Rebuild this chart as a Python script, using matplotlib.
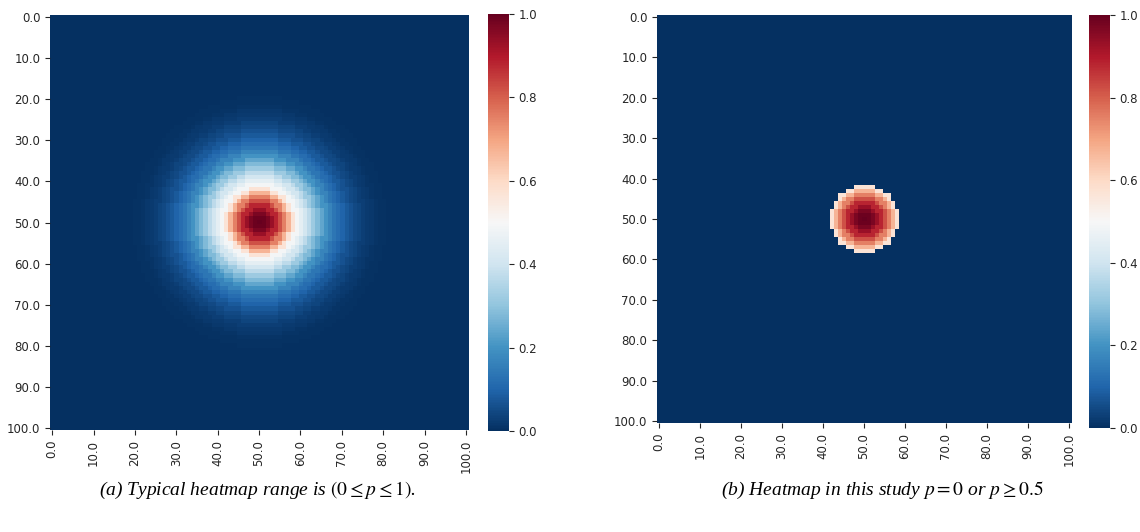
import numpy as np
import matplotlib
matplotlib.use("Agg")
from matplotlib import pyplot as plt

# grid of the heatmap (0..100 in both directions)
grid_size = 101
centre = [50, 50]

# value of the heatmap read along a radius from the centre, one entry per unit of distance
radial_profile = [1.00, 0.99, 0.97, 0.93, 0.88, 0.82, 0.75, 0.67, 0.57, 0.49,
                  0.45, 0.41, 0.37, 0.32, 0.28, 0.24, 0.20, 0.17, 0.14, 0.12,
                  0.10, 0.08, 0.065, 0.05, 0.04, 0.03, 0.022, 0.016, 0.011, 0.007,
                  0.004, 0.0]

# right panel keeps only p = 0 or p >= threshold
threshold = 0.5

tick_values = [0, 10, 20, 30, 40, 50, 60, 70, 80, 90, 100]
tick_labels = ["%.1f" % t for t in tick_values]
cbar_ticks = [0.0, 0.2, 0.4, 0.6, 0.8, 1.0]

captions = [r"(a) Typical heatmap range is $(0 \leq p \leq 1)$.",
            r"(b) Heatmap in this study $p = 0$ or $p \geq 0.5$"]

# build the heatmaps by looking up each cell's distance in the profile
yy, xx = np.mgrid[0:grid_size, 0:grid_size]
dist = np.hypot(xx - centre[0], yy - centre[1])
idx = np.clip(np.rint(dist).astype(int), 0, len(radial_profile) - 1)
heat = np.array(radial_profile)[idx]
heat_cut = np.where(heat >= threshold, heat, 0.0)

plt.rcParams["mathtext.fontset"] = "stix"

fig = plt.figure(figsize=(11.4, 5.32), dpi=100)

# [left, bottom, width, height] in figure fractions
ax_pos = [[0.0439, 0.1917, 0.3667, 0.7801], [0.5763, 0.2049, 0.3632, 0.7669]]
cb_pos = [[0.4281, 0.1898, 0.0184, 0.7838], [0.9557, 0.1955, 0.0180, 0.7763]]
caption_x = [0.226, 0.774]

for k, data in enumerate([heat, heat_cut]):
    ax = fig.add_axes(ax_pos[k])
    im = ax.imshow(data, cmap="RdBu_r", vmin=0, vmax=1, interpolation="nearest",
                   extent=(-0.5, grid_size - 0.5, grid_size - 0.5, -0.5), aspect="auto")
    ax.set_xticks(tick_values)
    ax.set_xticklabels(tick_labels, rotation=90, fontsize=8.5, color="#262626")
    ax.set_yticks(tick_values)
    ax.set_yticklabels(tick_labels, fontsize=8.5, color="#262626")
    ax.tick_params(length=3.5, width=0.8, color="#262626")
    for s in ax.spines.values():
        s.set_visible(False)

    cax = fig.add_axes(cb_pos[k])
    cb = fig.colorbar(im, cax=cax, ticks=cbar_ticks)
    cb.outline.set_visible(False)
    cb.ax.set_yticklabels(["%.1f" % t for t in cbar_ticks])
    cb.ax.tick_params(labelsize=8.5, length=3.5, width=0.8, color="#262626", labelcolor="#262626")

    fig.text(caption_x[k], 0.079, captions[k], ha="center", va="center",
             fontsize=14, family="Liberation Serif", style="italic")

fig.savefig("out.png", dpi=100)
